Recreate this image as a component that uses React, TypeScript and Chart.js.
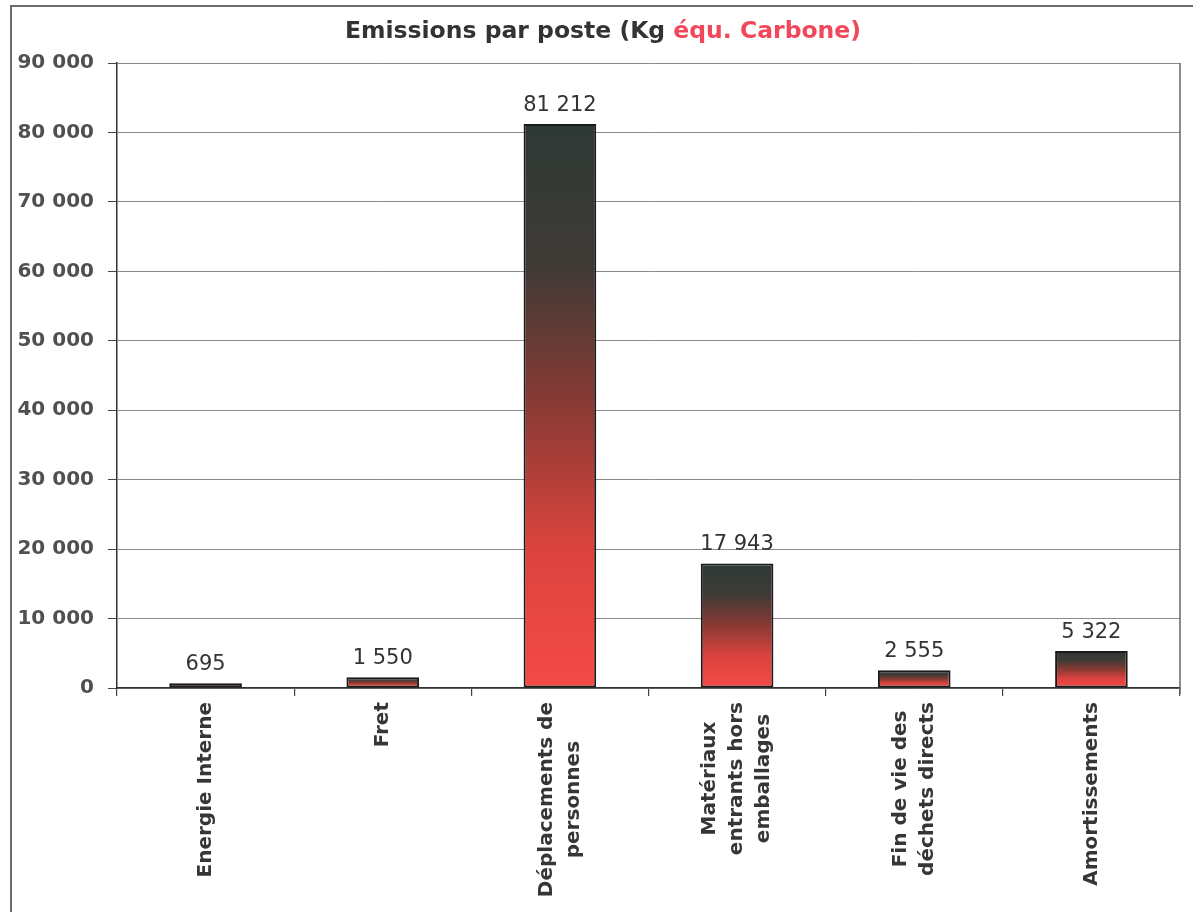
import React, { useEffect, useRef } from "react";
import { Chart, registerables } from "chart.js";

Chart.register(...registerables);

const categories: string[][] = [
  ["Energie Interne"],
  ["Fret"],
  ["Déplacements de", "personnes"],
  ["Matériaux", "entrants hors", "emballages"],
  ["Fin de vie des", "déchets directs"],
  ["Amortissements"],
];
const emissions: number[] = [695, 1550, 81212, 17943, 2555, 5322];
const yTicksMax = 90000;
const yTickStep = 10000;
const titleDark = "Emissions par poste (Kg ";
const titleRed = "équ. Carbone)";

const fmt = (v: number) => String(Math.round(v)).replace(/\B(?=(\d{3})+(?!\d))/g, " ");

export default function App() {
  const ref = useRef<HTMLCanvasElement | null>(null);

  useEffect(() => {
    document.body.style.margin = "0";
    const canvas = ref.current;
    if (!canvas) return;

    const framePlugin = {
      id: "frame",
      beforeDraw(chart: any) {
        const c = chart.ctx;
        c.save();
        c.fillStyle = "#ffffff";
        c.fillRect(0, 0, chart.width, chart.height);
        c.strokeStyle = "#6b6b6b";
        c.lineWidth = 2;
        c.beginPath();
        c.moveTo(11, chart.height);
        c.lineTo(11, 6);
        c.lineTo(chart.width, 6);
        c.stroke();
        c.restore();
      },
      afterDraw(chart: any) {
        const c = chart.ctx;
        const a = chart.chartArea;
        c.save();
        // plot area right border
        c.strokeStyle = "#666";
        c.lineWidth = 1.5;
        c.beginPath();
        c.moveTo(a.right, a.top);
        c.lineTo(a.right, a.bottom + 6);
        c.stroke();
        // title in two colours
        c.font = "bold 23.5px 'DejaVu Sans'";
        c.textBaseline = "middle";
        const w1 = c.measureText(titleDark).width;
        const w2 = c.measureText(titleRed).width;
        const x0 = 603 - (w1 + w2) / 2;
        c.textAlign = "left";
        c.fillStyle = "#333333";
        c.fillText(titleDark, x0, 32);
        c.fillStyle = "#f2475a";
        c.fillText(titleRed, x0 + w1, 32);
        // value labels
        const meta = chart.getDatasetMeta(0);
        c.font = "21px 'DejaVu Sans'";
        c.fillStyle = "#333333";
        c.textAlign = "center";
        c.textBaseline = "bottom";
        meta.data.forEach((bar: any, i: number) => {
          c.fillText(fmt(emissions[i]), bar.x, bar.y - 8);
        });
        // category labels (rotated, centred lines)
        const xs = chart.scales.x;
        c.font = "bold 20px 'DejaVu Sans'";
        c.fillStyle = "#363636";
        c.textAlign = "center";
        c.textBaseline = "middle";
        const lh = 27;
        categories.forEach((lines, i) => {
          const px = xs.getPixelForTick(i);
          const maxW = Math.max(...lines.map((l) => c.measureText(l).width));
          const cy = a.bottom + 14 + maxW / 2;
          lines.forEach((line, j) => {
            const lx = px + (j - (lines.length - 1) / 2) * lh;
            c.save();
            c.translate(lx, cy);
            c.rotate(-Math.PI / 2);
            c.fillText(line, 0, 0);
            c.restore();
          });
        });
        c.restore();
      },
    };

    const chart = new Chart(canvas, {
      type: "bar",
      data: {
        labels: categories.map((l) => l.join(" ")),
        datasets: [
          {
            data: emissions,
            backgroundColor: (ctx: any) => {
              const ch = ctx.chart;
              if (!ch.chartArea || ctx.type !== "data" || !ch.scales.y) return "#e04444";
              const v = ctx.parsed ? ctx.parsed.y : ctx.raw;
              const top = ch.scales.y.getPixelForValue(v);
              const bottom = ch.scales.y.getPixelForValue(0);
              if (!isFinite(top) || !isFinite(bottom) || bottom - top < 1) return "#e04444";
              const g = ch.ctx.createLinearGradient(0, top, 0, bottom);
              g.addColorStop(0, "#2d3935");
              g.addColorStop(0.25, "#3f3a36");
              g.addColorStop(0.5, "#8a3a34");
              g.addColorStop(0.75, "#dc433e");
              g.addColorStop(1, "#f44a46");
              return g;
            },
            borderColor: "#1a1a1a",
            borderWidth: 2,
            borderSkipped: false,
            categoryPercentage: 1,
            barPercentage: 0.41,
          },
        ],
      },
      options: {
        animation: false,
        responsive: false,
        maintainAspectRatio: false,
        layout: { padding: { left: 10, top: 63, right: 13, bottom: 0 } },
        plugins: {
          legend: { display: false },
          title: { display: false },
          tooltip: { enabled: false },
        },
        scales: {
          x: {
            offset: true,
            grid: {
              display: true,
              drawOnChartArea: false,
              offset: true,
              tickLength: 8,
              color: "#444",
              lineWidth: 1.2,
            },
            border: { display: true, color: "#333", width: 1.5 },
            ticks: { display: false },
            afterFit: (scale: any) => {
              scale.height = 224;
            },
          },
          y: {
            min: 0,
            max: yTicksMax,
            grid: {
              color: "#8a8a8a",
              lineWidth: 1,
              tickLength: 9,
              tickColor: "#444",
            },
            border: { display: true, color: "#333", width: 1.5 },
            ticks: {
              stepSize: yTickStep,
              padding: 14,
              color: "#505050",
              font: { family: "'DejaVu Sans'", size: 20, weight: "bold" },
              callback: (v: any) => fmt(Number(v)),
            },
            afterFit: (scale: any) => {
              scale.width = 107;
            },
          },
        },
      },
      plugins: [framePlugin],
    } as any);

    return () => chart.destroy();
  }, []);

  return (
    <div style={{ width: 1193, height: 912 }}>
      <canvas ref={ref} width={1193} height={912} style={{ display: "block", width: 1193, height: 912 }} />
    </div>
  );
}
